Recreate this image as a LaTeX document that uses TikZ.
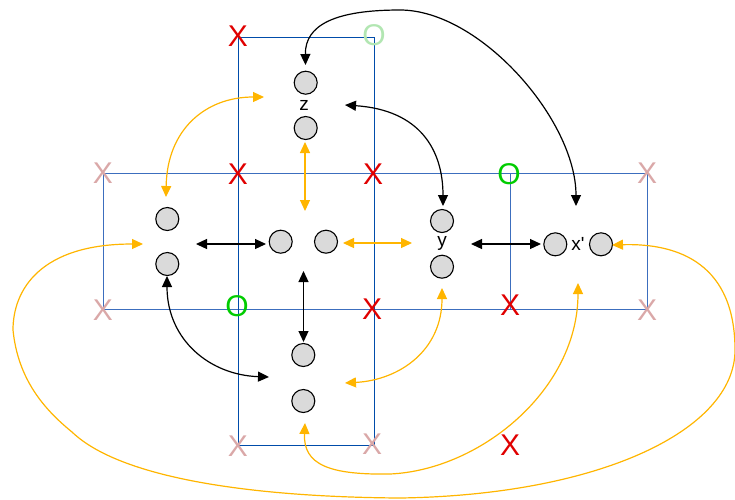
\documentclass[tikz,border=0pt]{standalone}
\usepackage{fontspec}
\setmainfont{Liberation Sans}
\usetikzlibrary{arrows.meta}
\definecolor{amber}{RGB}{255,181,0}
\definecolor{xred}{RGB}{224,0,0}
\definecolor{xpink}{RGB}{218,168,168}
\definecolor{ogreen}{RGB}{0,204,0}
\definecolor{olight}{RGB}{178,230,178}
\definecolor{vblue}{RGB}{0,76,170}
\definecolor{hblue}{RGB}{60,110,190}
\definecolor{dotgrey}{RGB}{218,218,218}
\tikzset{
  dot/.style={circle, draw=black, fill=dotgrey, line width=1.1pt, minimum size=23pt, inner sep=0pt},
  lbl/.style={font=\fontsize{19}{19}\selectfont, inner sep=0pt, anchor=base},
  mk/.style={font=\fontsize{30}{30}\selectfont, inner sep=0pt},
  redx/.style={mk, text=xred},
  pinkx/.style={mk, text=xpink},
  greeno/.style={mk, text=ogreen},
  lighto/.style={mk, text=olight},
  blk/.style={draw=black, line width=1.2pt, {Triangle[length=11pt,width=10pt]}-{Triangle[length=11pt,width=10pt]}},
  amb/.style={draw=amber, line width=1.2pt, {Triangle[length=11pt,width=10pt]}-{Triangle[length=11pt,width=10pt]}},
}
\begin{document}
\begin{tikzpicture}[x=1pt,y=-1pt]
\useasboundingbox (0,0) rectangle (735,499);
% blue frames
\draw[hblue, line width=1pt] (103,173) rectangle (647,309);
\draw[hblue, line width=1pt] (510,173) -- (510,309);
\draw[vblue, line width=1pt] (238,37) rectangle (374,445);
% circles
\node[dot] (zt) at (305.7,82.7) {};
\node[dot] (zb) at (305.7,128) {};
\node[dot] (lt) at (167.3,219) {};
\node[dot] (lb) at (167.3,264) {};
\node[dot] (cl) at (280.7,241.7) {};
\node[dot] (cr) at (326,241.7) {};
\node[dot] (yt) at (442,221) {};
\node[dot] (yb) at (442,266.7) {};
\node[dot] (xl) at (555.3,244.3) {};
\node[dot] (xr) at (601,244.3) {};
\node[dot] (bt) at (303.3,355) {};
\node[dot] (bb) at (303.3,401) {};
% labels
\node[lbl] (lz) at (304,110) {z};
\node[lbl] (ly) at (442,246) {y};
\node[lbl] (lx) at (578,250) {x\textquotesingle};
% connector end points
\coordinate (zN) at (305.5,65);
\coordinate (xN) at (576,206);
\coordinate (zE) at (345,105);
\coordinate (yN) at (443,206);
\coordinate (lE) at (196,244);
\coordinate (cW) at (266,244);
\coordinate (cS) at (303.5,271);
\coordinate (bN) at (303.5,342);
\coordinate (lS) at (167,276);
\coordinate (bW) at (269,377);
\coordinate (yE) at (471,244);
\coordinate (xW) at (541,244);
\coordinate (zW) at (264,97);
\coordinate (lN) at (166,197);
\coordinate (zS) at (305,142);
\coordinate (cN) at (305,211);
\coordinate (cE) at (343,243);
\coordinate (yW) at (412,243);
\coordinate (lW) at (143,244);
\coordinate (xE) at (612,245);
\coordinate (yS) at (442,288);
\coordinate (bE) at (345,383);
\coordinate (bS) at (305,423);
\coordinate (xS) at (578,283);
% black connectors
\draw[blk] (zN) .. controls (305,25) and (335,10) .. (400,10) .. controls (480,10) and (576,120) .. (xN);
\draw[blk] (zE) .. controls (420,110) and (443,150) .. (yN);
\draw[blk] (lE) -- (cW);
\draw[blk] (cS) -- (bN);
\draw[blk] (lS) .. controls (167,340) and (210,375) .. (bW);
\draw[blk] (yE) -- (xW);
% amber connectors
\draw[amb] (zW) .. controls (205,97) and (167,130) .. (lN);
\draw[amb] (zS) -- (cN);
\draw[amb] (cE) -- (yW);
\draw[amb] (lW) .. controls (40,244) and (13,290) .. (13,330)
  .. controls (18,380) and (45,410) .. (72,432)
  .. controls (120,478) and (250,497) .. (400,498)
  .. controls (600,495) and (735,430) .. (735,350)
  .. controls (735,265) and (680,243) .. (xE);
\draw[amb] (yS) .. controls (442,350) and (400,380) .. (bE);
\draw[amb] (bS) .. controls (303,465) and (330,475) .. (390,474)
  .. controls (480,470) and (578,390) .. (xS);
% markers
\node[redx] (r1) at (238,36) {X};
\node[redx] (r2) at (238,174) {X};
\node[redx] (r3) at (373,174) {X};
\node[redx] (r4) at (372,309) {X};
\node[redx] (r5) at (510,305) {X};
\node[redx] (r6) at (510,445) {X};
\node[pinkx] (p1) at (103,173) {X};
\node[pinkx] (p2) at (647,173) {X};
\node[pinkx] (p3) at (103,310) {X};
\node[pinkx] (p4) at (647,310) {X};
\node[pinkx] (p5) at (238,446) {X};
\node[pinkx] (p6) at (372,444) {X};
\node[greeno] (g1) at (509,174) {O};
\node[greeno] (g2) at (237,306) {O};
\node[lighto] (g3) at (374,35) {O};
\end{tikzpicture}
\end{document}
